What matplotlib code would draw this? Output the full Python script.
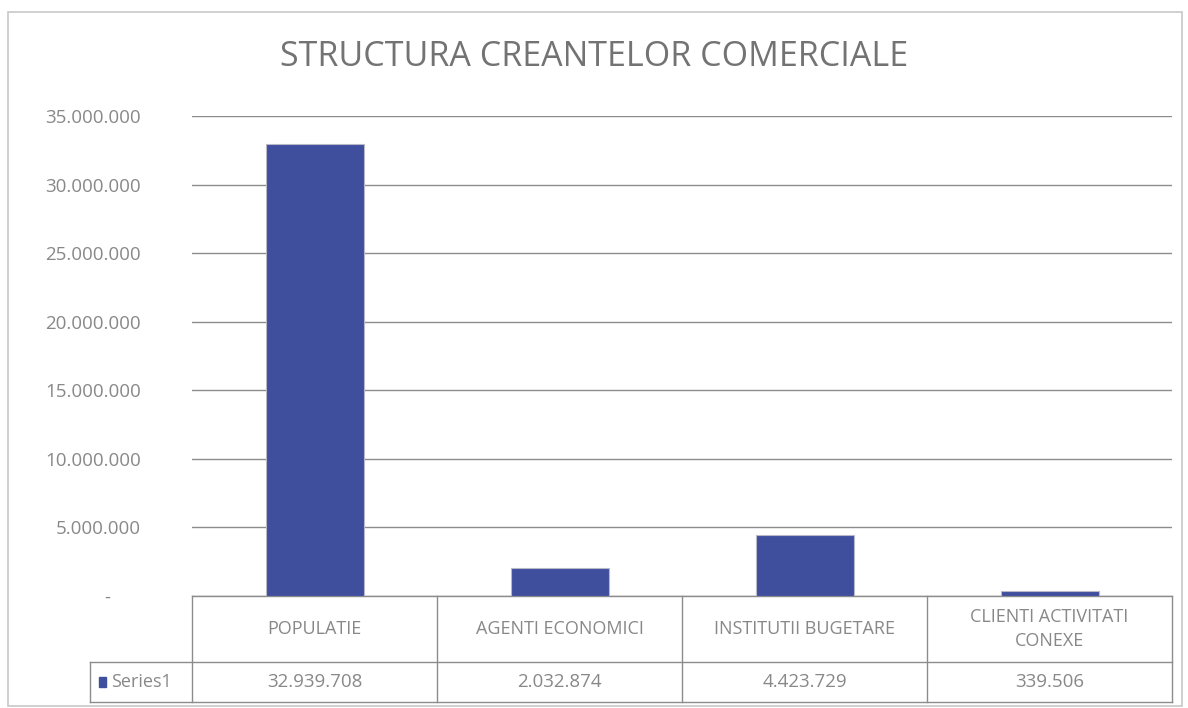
import numpy as np
import matplotlib.pyplot as plt
from matplotlib.patches import Rectangle
from matplotlib.ticker import FuncFormatter

categories = ['POPULATIE', 'AGENTI ECONOMICI', 'INSTITUTII BUGETARE', 'CLIENTI ACTIVITATI\nCONEXE']
values = [32939708, 2032874, 4423729, 339506]
series_name = 'Series1'
title = 'STRUCTURA CREANTELOR COMERCIALE'

bar_color = '#3f4f9e'
text_color = '#888888'
line_color = '#8c8c8c'

plt.rcParams['font.family'] = ['Open Sans', 'DejaVu Sans']

def fmt(v, pos=None):
    if v == 0:
        return '-      '
    return f'{int(v):,}'.replace(',', '.')

fig = plt.figure(figsize=(11.88, 7.08), dpi=100)
fig.patches.append(Rectangle((8 / 1188, 2 / 708), 1174 / 1188, 694 / 708,
                             transform=fig.transFigure, fill=False,
                             edgecolor='#c8c8c8', linewidth=1.2))

ax = fig.add_axes([192 / 1188, 1 - 596 / 708, 980 / 1188, 480 / 708])
x = np.arange(len(categories))
ax.bar(x, values, width=0.4, color=bar_color, edgecolor='#b8b8c8', linewidth=0.8, zorder=3)
ax.set_xlim(-0.5, len(categories) - 0.5)
ax.set_ylim(0, 35000000)
ax.set_yticks(np.arange(0, 35000001, 5000000))
ax.yaxis.set_major_formatter(FuncFormatter(fmt))
ax.tick_params(axis='y', length=0, pad=37, labelsize=13.5, labelcolor=text_color)
ax.set_xticks([])
ax.grid(axis='y', color=line_color, linewidth=1.0, zorder=0)
for s in ax.spines.values():
    s.set_visible(False)

fig.text(0.5, 1 - 57 / 708, title, ha='center', va='center', fontsize=24.5, color='#737373')

# data table below the plot
tr = ax.get_xaxis_transform()
h1 = -66 / 480
h2 = -106 / 480
left_label = -0.5 - 102 / 245
kw = dict(color=line_color, linewidth=1.0, transform=tr, clip_on=False)
ax.plot([-0.5, len(categories) - 0.5], [0, 0], **kw)
ax.plot([left_label, len(categories) - 0.5], [h1, h1], **kw)
ax.plot([left_label, len(categories) - 0.5], [h2, h2], **kw)
ax.plot([left_label, left_label], [h1, h2], **kw)
for b in np.arange(-0.5, len(categories), 1.0):
    ax.plot([b, b], [0, h2], **kw)

for i, (c, v) in enumerate(zip(categories, values)):
    ax.text(i, h1 / 2, c, transform=tr, ha='center', va='center', fontsize=13,
            color=text_color, linespacing=1.45)
    ax.text(i, (h1 + h2) / 2, fmt(v), transform=tr, ha='center', va='center',
            fontsize=13.5, color=text_color)

ax.add_patch(Rectangle((left_label + 0.035, (h1 + h2) / 2 - 0.011), 0.03, 0.022,
                       transform=tr, color=bar_color, clip_on=False))
ax.text(left_label + 0.085, (h1 + h2) / 2, series_name, transform=tr, ha='left',
        va='center', fontsize=13, color=text_color)

fig.savefig('out.png', dpi=100)
